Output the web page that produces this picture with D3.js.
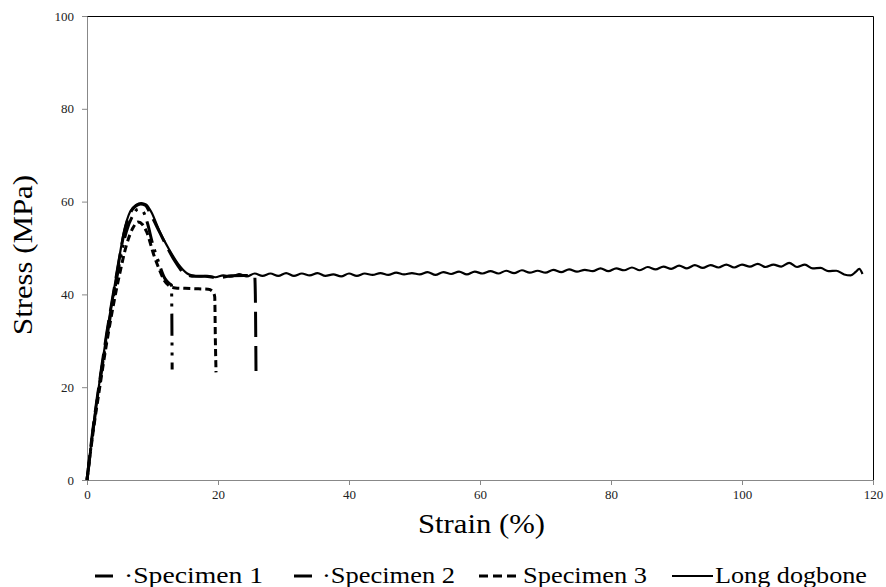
<!DOCTYPE html>
<html>
<head>
<meta charset="utf-8">
<script src="https://cdn.jsdelivr.net/npm/d3@7"></script>
<style>
  body { margin: 0; background: #fff; }
</style>
</head>
<body>
<div id="chart"></div>
<script>
// tick values
const xTicks = [0, 20, 40, 60, 80, 100, 120];
const yTicks = [0, 20, 40, 60, 80, 100];

// [strain %, stress MPa]
const specimen1 = [[0, 0], [1, 11.5], [2, 21.5], [3, 30.5], [4, 39], [5, 47], [6, 53.5], [7, 57], [7.8, 58.4],
  [8.5, 58], [9.2, 55.5], [10, 51], [10.8, 47.5], [11.9, 43.4], [12.6, 42.3], [12.9, 42], [13, 23.8]];
const specimen2 = [[0, 0], [1, 12], [2, 22], [3, 31.5], [4, 40], [5, 48.2], [5.6, 52.8], [6.6, 57.5], [7.5, 59.1], [8.2, 59.5],
  [8.9, 59.2], [9.7, 57.3], [10.6, 54.8], [12, 50.8], [13.5, 47], [15, 44.4], [16.5, 43.9], [18, 43.9], [20, 43.6],
  [22, 44.0], [24, 44.1], [25.6, 44.0], [25.7, 40], [25.8, 23.5]];
const specimen3 = [[0, 0], [1, 11], [2, 20.5], [3, 29.5], [4, 37.5], [5, 44.5], [6, 50.5], [7, 54.3], [7.8, 55.6],
  [8.5, 55], [9.1, 53.5], [10.2, 48.5], [11, 45.5], [11.8, 43], [12.6, 41.8], [13.5, 41.4], [15, 41.3], [17, 41.2],
  [18.5, 41.1], [19.2, 40.6], [19.5, 39.5], [19.6, 30], [19.7, 23.2]];
const dogbone = [[0, 0], [1, 12], [2, 22], [3, 31.5], [4, 40], [5, 48.5], [5.6, 53.3], [6.6, 57.9], [7.5, 59.3], [8.3, 59.7],
  [9, 59.4], [9.8, 57.8], [11.1, 53.5], [12.5, 49.8], [14, 46.4], [15.3, 44.5],
  [16.0, 44.1], [17.2, 43.9], [18.4, 44.0], [19.6, 43.7], [20.8, 44.1], [22.0, 43.8], [23.2, 44.4], [24.4, 43.9],
  [25.6, 44.5], [26.8, 44.0], [28.0, 44.5], [29.2, 44.0], [30.4, 44.6], [31.6, 44.0], [32.8, 44.5], [34.0, 44.1],
  [35.2, 44.6], [36.4, 44.0], [37.6, 44.3], [38.8, 43.9], [40.0, 44.5], [41.2, 44.0], [42.4, 44.5], [43.6, 44.2],
  [44.8, 44.6], [46.0, 44.2], [47.2, 44.7], [48.4, 44.3], [49.6, 44.6], [50.8, 44.3], [52.0, 44.8], [53.2, 44.2],
  [54.4, 44.8], [55.6, 44.4], [56.8, 44.9], [58.0, 44.3], [59.2, 44.9], [60.4, 44.5], [61.6, 45.0], [62.8, 44.5],
  [64.0, 45.1], [65.2, 44.6], [66.4, 45.2], [67.6, 44.7], [68.8, 45.1], [70.0, 44.7], [71.2, 45.3], [72.4, 44.8],
  [73.6, 45.4], [74.8, 44.9], [76.0, 45.3], [77.2, 45.0], [78.4, 45.6], [79.6, 45.0], [80.8, 45.6], [82.0, 45.2],
  [83.2, 45.8], [84.4, 45.2], [85.6, 45.9], [86.8, 45.4], [88.0, 46.0], [89.2, 45.5], [90.4, 46.2], [91.6, 45.6],
  [92.8, 46.3], [94.0, 45.7], [95.2, 46.3], [96.4, 45.8], [97.6, 46.4], [98.8, 45.8], [100.0, 46.4], [101.2, 46.0],
  [102.4, 46.6], [103.6, 45.9], [104.8, 46.4], [106.0, 46.0], [107.2, 46.8], [108.4, 45.9], [109.6, 46.4], [110.8, 45.6],
  [112.0, 45.7], [113.2, 45.0], [114.4, 45.1], [115.6, 44.3], [116.6, 44.1], [117.4, 44.9], [117.9, 45.5], [118.4, 44.4]];

const series = [
  { name: 'Specimen 1', label: '\u00b7Specimen 1', data: specimen1, dash: '22,7,3,7,3,7', width: 3 },
  { name: 'Specimen 2', label: '\u00b7Specimen 2', data: specimen2, dash: '25,9', width: 3 },
  { name: 'Specimen 3', label: 'Specimen 3', data: specimen3, dash: '7,4', width: 3 },
  { name: 'Long dogbone', label: 'Long dogbone', data: dogbone, dash: null, width: 2.2 }
];

const serif = '"Times New Roman", Tinos, "Liberation Serif", Times, "Nimbus Roman", FreeSerif, serif';
const W = 886, H = 587;
const m = { top: 16, right: 13, bottom: 107, left: 87 };
const w = W - m.left - m.right, h = H - m.top - m.bottom;

const svg = d3.select('#chart').append('svg')
  .attr('width', W).attr('height', H);

const g = svg.append('g').attr('transform', `translate(${m.left}, ${m.top})`);

const xScale = d3.scaleLinear().domain([0, 120]).range([0, w]);
const yScale = d3.scaleLinear().domain([0, 100]).range([h, 0]);

// border top/right
g.append('path')
  .attr('d', `M0,0.5H${w + 0.5}V${h}`)
  .attr('fill', 'none').attr('stroke', '#000').attr('stroke-width', 1);

const xAxis = g.append('g')
  .attr('transform', `translate(0, ${h})`)
  .call(d3.axisBottom(xScale).tickValues(xTicks).tickSize(5).tickSizeOuter(0).tickPadding(5));
const yAxis = g.append('g')
  .call(d3.axisLeft(yScale).tickValues(yTicks).tickSize(5).tickSizeOuter(0).tickPadding(8));

[xAxis, yAxis].forEach(a => {
  a.attr('font-family', null);
  a.select('.domain').attr('stroke', '#888');
  a.selectAll('.tick line').attr('stroke', '#888');
  a.selectAll('.tick text')
    .style('font-family', serif)
    .style('font-size', '13px')
    .attr('fill', '#222');
});

const line = d3.line()
  .x(d => xScale(d[0]))
  .y(d => yScale(d[1]))
  .curve(d3.curveMonotoneX);

g.selectAll('.series')
  .data(series)
  .enter()
  .append('path')
  .attr('class', 'series')
  .attr('d', d => line(d.data))
  .attr('fill', 'none')
  .attr('stroke', '#000')
  .attr('stroke-width', d => d.width)
  .attr('stroke-dasharray', d => d.dash)
  .attr('stroke-linejoin', 'round');

// axis titles
svg.append('text')
  .attr('x', 418)
  .attr('y', 533)
  .attr('textLength', 127)
  .attr('lengthAdjust', 'spacingAndGlyphs')
  .style('font-family', serif)
  .style('font-size', '27px')
  .text('Strain (%)');

svg.append('text')
  .attr('transform', `translate(32, 335) rotate(-90)`)
  .attr('textLength', 160)
  .attr('lengthAdjust', 'spacingAndGlyphs')
  .style('font-family', serif)
  .style('font-size', '27px')
  .text('Stress (MPa)');

// legend
const legendX = [95, 294, 479, 672];
const legendLen = [18, 18, 38, 41];
const textX = [124, 322, 523, 715];
const textLen = [139, 133, 124, 152];
const legend = svg.append('g').attr('id', 'legend')
  .selectAll('g')
  .data(series)
  .enter()
  .append('g');

legend.append('line')
  .attr('x1', (d, i) => legendX[i]).attr('x2', (d, i) => legendX[i] + legendLen[i])
  .attr('y1', 576).attr('y2', 576)
  .attr('stroke', '#000')
  .attr('stroke-width', (d, i) => i === 3 ? 2 : 3)
  .attr('stroke-dasharray', (d, i) => i === 2 ? '9,5' : null);

legend.append('text')
  .attr('x', (d, i) => textX[i])
  .attr('y', 583)
  .attr('textLength', (d, i) => textLen[i])
  .attr('lengthAdjust', 'spacingAndGlyphs')
  .style('font-family', serif)
  .style('font-size', '23px')
  .text(d => d.label);
</script>
</body>
</html>
